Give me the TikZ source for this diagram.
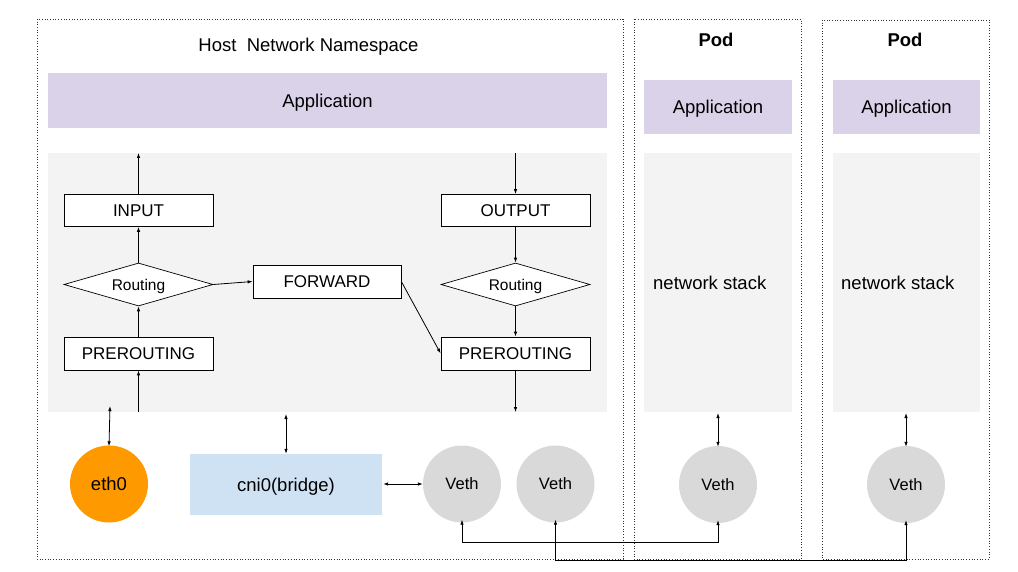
\documentclass[tikz,border=0pt]{standalone}
\usepackage{fontspec}
\setmainfont{Liberation Sans}
\usetikzlibrary{shapes.geometric,arrows.meta}
\definecolor{applav}{HTML}{D9D2E9}
\definecolor{stackgray}{HTML}{F3F3F3}
\definecolor{ethorange}{HTML}{FF9900}
\definecolor{bridgeblue}{HTML}{CFE2F3}
\definecolor{vethgray}{HTML}{D9D9D9}
\newcommand{\bigfs}{\fontsize{18.5}{21}\selectfont}
\newcommand{\boxfs}{\fontsize{17}{19}\selectfont}
\newcommand{\smallfs}{\fontsize{15.5}{17}\selectfont}
\newcommand{\vethfs}{\fontsize{16.5}{18}\selectfont}
\begin{document}
\begin{tikzpicture}[x=1pt,y=-1pt,
  bigtxt/.style={font=\bigfs,text height=13.2pt,text depth=0pt},
  boxtxt/.style={font=\boxfs,text height=12.2pt,text depth=0pt},
  smalltxt/.style={font=\smallfs,text height=11.1pt,text depth=0pt},
  vethtxt/.style={font=\vethfs,text height=11.8pt,text depth=0pt},
  nsbox/.style={draw=black!80,dotted,line width=0.7pt},
  appbox/.style={fill=applav,draw=none,inner sep=0pt,bigtxt},
  stackbox/.style={fill=stackgray,draw=none,inner sep=0pt},
  chainbox/.style={draw=black,fill=white,line width=0.7pt,minimum width=149pt,minimum height=32pt,inner sep=0pt,boxtxt},
  routebox/.style={diamond,draw=black,fill=white,line width=0.7pt,aspect=3.47,minimum width=149pt,minimum height=43pt,inner sep=0pt,smalltxt},
  ifcircle/.style={ellipse,draw=none,minimum width=78pt,minimum height=77pt,inner sep=0pt},
  conn/.style={line width=0.8pt,-{Latex[length=5pt,width=3.5pt]}},
  biconn/.style={line width=0.8pt,{Latex[length=5pt,width=3.5pt]}-{Latex[length=5pt,width=3.5pt]}}
]
\useasboundingbox (0,0) rectangle (1018,572);
% namespace frames
\draw[nsbox] (37,19) rectangle (623,559);
\draw[nsbox] (634,19) rectangle (801,559);
\draw[nsbox] (822,20) rectangle (989,559);
% titles
\node[bigtxt] (hosttitle) at (308.5,45) {Host\ \ Network Namespace};
\node[bigtxt,font=\bigfs\bfseries] (pod1title) at (716,40) {Pod};
\node[bigtxt,font=\bigfs\bfseries] (pod2title) at (905,40) {Pod};
% applications
\node[appbox,minimum width=559pt,minimum height=55pt] (happ) at (327.5,100.5) {Application};
\node[appbox,minimum width=148pt,minimum height=54pt] (p1app) at (718,107) {Application};
\node[appbox,minimum width=147pt,minimum height=54pt] (p2app) at (906.5,107) {Application};
% stacks
\node[stackbox,minimum width=559pt,minimum height=259pt] (hstack) at (327.5,282.5) {};
\node[stackbox,minimum width=148pt,minimum height=259pt] (p1stack) at (718,282.5) {};
\node[stackbox,minimum width=147pt,minimum height=259pt] (p2stack) at (906.5,282.5) {};
\node[bigtxt,anchor=west,inner sep=0pt] (p1ns) at (653,283) {network stack};
\node[bigtxt,anchor=west,inner sep=0pt] (p2ns) at (841,283) {network stack};
% chains
\node[chainbox] (input) at (138.5,210.5) {INPUT};
\node[chainbox] (output) at (515.5,210.5) {OUTPUT};
\node[routebox] (routeL) at (138.5,284.5) {Routing};
\node[routebox] (routeR) at (515.5,284.5) {Routing};
\node[chainbox,minimum width=148pt,minimum height=33pt] (forward) at (327,281.5) {FORWARD};
\node[chainbox,minimum height=33pt] (preL) at (138.5,353.5) {PREROUTING};
\node[chainbox,minimum height=33pt] (preR) at (515.5,353.5) {PREROUTING};
\coordinate (inTop) at (138.5,153);
\coordinate (inBot) at (138.5,412);
\coordinate (outTop) at (515.5,153);
\coordinate (outBot) at (515.5,412);
\draw[conn] (input.north) -- (inTop);
\draw[conn] (routeL.north) -- (input.south);
\draw[conn] (preL.north) -- (routeL.south);
\draw[conn] (inBot) -- (preL.south);
\draw[conn] (outTop) -- (output.north);
\draw[conn] (output.south) -- (routeR.north);
\draw[conn] (routeR.south) -- (preR.north);
\draw[conn] (preR.south) -- (outBot);
\draw[conn] (routeL.east) -- (forward.west);
\draw[conn] (forward.east) -- (preR.west);
% interfaces
\node[ifcircle,fill=ethorange,bigtxt] (eth0) at (109,484) {eth0};
\node[fill=bridgeblue,minimum width=192pt,minimum height=61pt,inner sep=0pt,bigtxt] (cni) at (286,484.5) {cni0(bridge)};
\node[ifcircle,fill=vethgray,vethtxt] (veth1) at (462,484) {Veth};
\node[ifcircle,fill=vethgray,vethtxt] (veth2) at (555.5,484) {Veth};
\node[ifcircle,fill=vethgray,vethtxt] (pveth1) at (718,484.5) {Veth};
\node[ifcircle,fill=vethgray,vethtxt] (pveth2) at (906,484.5) {Veth};
\coordinate (ethTop) at (110,406);
\coordinate (cniTop) at (286,414);
\coordinate (p1Bot) at (718,413);
\coordinate (p2Bot) at (906,413);
\draw[biconn] (ethTop) -- ([yshift=-1pt]eth0.north);
\draw[biconn] (cniTop) -- (cni.north);
\draw[biconn] ([xshift=1pt]cni.east |- veth1.west) -- (veth1.west);
\draw[biconn] (p1Bot) -- ([yshift=-1pt]pveth1.north);
\draw[biconn] (p2Bot) -- ([yshift=-1pt]pveth2.north);
\draw[biconn] ([yshift=3pt]veth1.south) -- ++(0,23) -| ([yshift=3pt]pveth1.south);
\draw[biconn] ([yshift=3pt]veth2.south) -- ++(0,41) -| ([yshift=3pt]pveth2.south);
\end{tikzpicture}
\end{document}
